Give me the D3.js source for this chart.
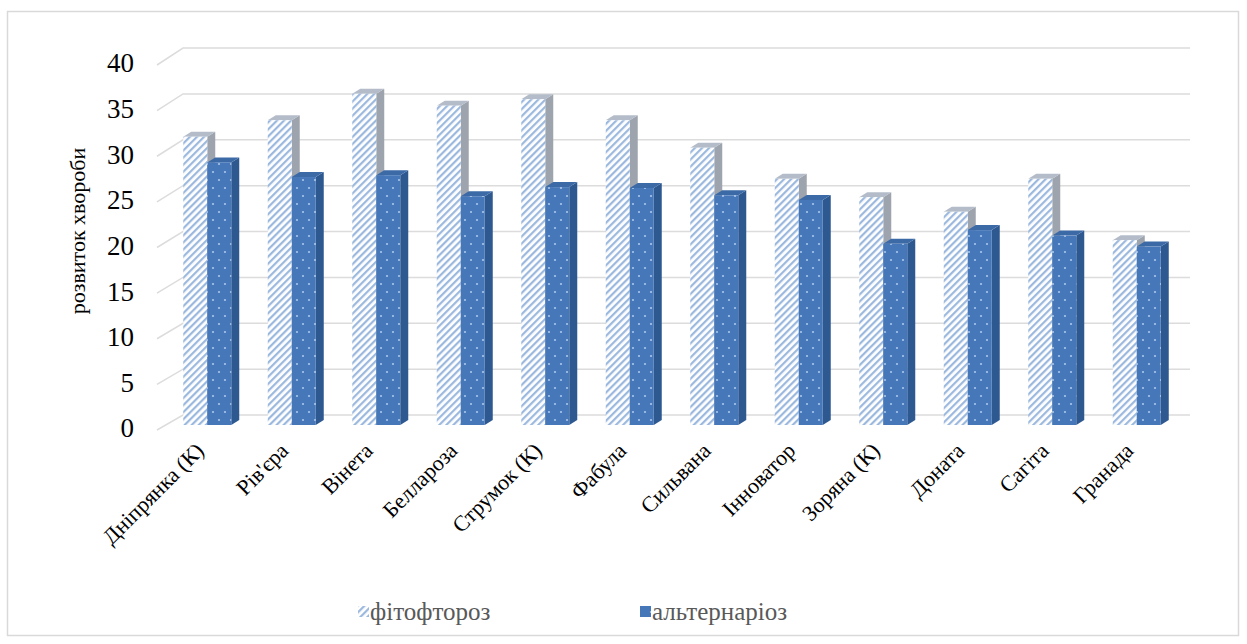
<!DOCTYPE html>
<html><head><meta charset="utf-8">
<script src="https://cdn.jsdelivr.net/npm/d3@7"></script>
</head><body><svg id="c" width="1247" height="644"></svg>
<script>
const categories = ["Дніпрянка (К)","Рів'єра","Вінета","Беллароза","Струмок (К)","Фабула","Сильвана","Інноватор","Зоряна (К)","Доната","Сагіта","Гранада"];
const phyto = [31.5, 33.3, 36.2, 34.9, 35.6, 33.3, 30.3, 26.9, 24.9, 23.3, 26.9, 20.2];
const alter = [28.7, 27.1, 27.3, 25.0, 26.0, 25.9, 25.1, 24.6, 19.8, 21.3, 20.7, 19.5];
const seriesNames = ["фітофтороз", "альтернаріоз"];
const yTicks = [0,5,10,15,20,25,30,35,40];

document.body.style.margin = "0";
const svg = d3.select("#c");
svg.node().style.display = "block";

const defs = svg.append("defs");
const hp = defs.append("pattern").attr("id","hatch").attr("patternUnits","userSpaceOnUse")
  .attr("width",5).attr("height",5).attr("patternTransform","rotate(45)");
hp.append("rect").attr("width",5).attr("height",5).attr("fill","#ffffff");
hp.append("rect").attr("width",2.2).attr("height",5).attr("fill","#9bb8de");
const dp = defs.append("pattern").attr("id","dots").attr("patternUnits","userSpaceOnUse")
  .attr("width",12).attr("height",16);
dp.append("rect").attr("width",12).attr("height",16).attr("fill","#4677b9");
dp.append("circle").attr("cx",3).attr("cy",4).attr("r",1.1).attr("fill","#a8c6ee");
dp.append("circle").attr("cx",9).attr("cy",12).attr("r",1.1).attr("fill","#a8c6ee");

// frame
svg.append("rect").attr("x",7.5).attr("y",11.5).attr("width",1231).attr("height",624)
  .attr("fill","none").attr("stroke","#d9d9d9").attr("stroke-width",1.5);

const yFront = d3.scaleLinear().domain([0,40]).range([430,65]);
const yBack = d3.scaleLinear().domain([0,40]).range([415,48]);
const yBar = d3.scaleLinear().domain([0,40]).range([425,59]);
const x = d3.scaleBand().domain(categories).range([165,1179]);
const xs = d3.scaleBand().domain(seriesNames).range([-24,24]);
const DX = 8, DY = -5;

// gridlines (side wall + back wall)
svg.append("g").selectAll("path").data(yTicks).join("path")
  .attr("d", v => `M157,${yFront(v)}L183,${yBack(v)}L1190,${yBack(v)}`)
  .attr("fill","none").attr("stroke","#dcdcdc").attr("stroke-width",1.5);

// y axis tick labels (positions from the scale's ticks)
svg.selectAll("text.ytick").data(yTicks).join("text").attr("class","ytick")
  .attr("x",134).attr("y", v => yFront(v) - 2).attr("dy","0.35em")
  .attr("text-anchor","end")
  .style("font-family", '"Liberation Serif"').attr("font-size",27).attr("fill","#000")
  .text(v => v);

svg.append("text").attr("transform","translate(85,231) rotate(-90)")
  .attr("text-anchor","middle")
  .style("font-family", '"Liberation Serif"').attr("font-size",22)
  .attr("fill","#000").text("розвиток хвороби");

// bars
const data = [];
categories.forEach((c,i) => {
  data.push({c, s: seriesNames[0], v: phyto[i]});
  data.push({c, s: seriesNames[1], v: alter[i]});
});
const styles = {
  "фітофтороз": {front:"url(#hatch)", top:"#b3bcc8", side:"#9ea4ad"},
  "альтернаріоз": {front:"url(#dots)", top:"#3c6aa6", side:"#2d5890"}
};
const bw = xs.bandwidth();
const g = svg.append("g");
data.forEach(d => {
  const x0 = x(d.c) + x.bandwidth()/2 + xs(d.s);
  const x1 = x0 + bw;
  const yt = yBar(d.v), yb = yBar(0);
  const st = styles[d.s];
  g.append("path").attr("d",`M${x1},${yt}L${x1+DX},${yt+DY}L${x1+DX},${yb+DY}L${x1},${yb}Z`).attr("fill",st.side);
  g.append("path").attr("d",`M${x0},${yt}L${x0+DX},${yt+DY}L${x1+DX},${yt+DY}L${x1},${yt}Z`).attr("fill",st.top);
  g.append("rect").attr("x",x0).attr("y",yt).attr("width",bw).attr("height",yb-yt).attr("fill",st.front);
});

// category labels
svg.selectAll("text.cat").data(categories).join("text").attr("class","cat")
  .attr("transform", c => `translate(${x(c)+x.bandwidth()/2-2},452) rotate(-45)`)
  .attr("text-anchor","end")
  .style("font-family", '"Liberation Serif"').attr("font-size",22)
  .attr("fill","#000").text(c => c);

// legend
const leg = [{s:seriesNames[0], x:358, fill:"url(#hatch)"},{s:seriesNames[1], x:640, fill:"url(#dots)"}];
svg.selectAll("rect.legsw").data(leg).join("rect").attr("class","legsw")
  .attr("x", l => l.x).attr("y",606).attr("width",11).attr("height",11).attr("fill", l => l.fill);
svg.selectAll("text.legtx").data(leg).join("text").attr("class","legtx")
  .attr("x", l => l.x + 12).attr("y",620)
  .style("font-family", '"Liberation Serif"').attr("font-size",25).attr("fill","#595959")
  .text(l => l.s);
</script></body></html>
